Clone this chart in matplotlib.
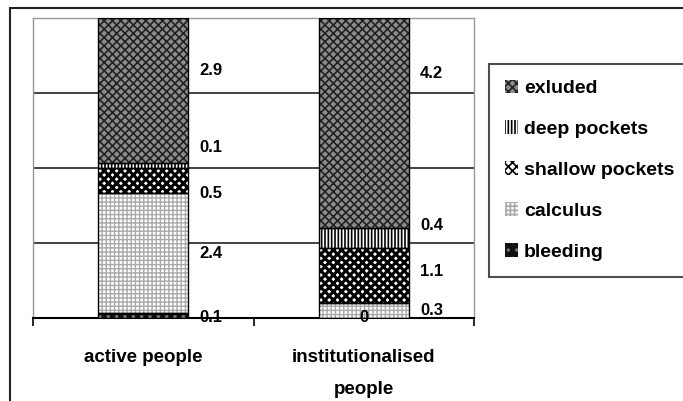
import numpy as np
import matplotlib
matplotlib.use("Agg")
import matplotlib.pyplot as plt
from matplotlib.patches import Rectangle

plt.rcParams['font.family'] = ['Liberation Sans', 'DejaVu Sans']
plt.rcParams['hatch.linewidth'] = 1.2

# data, bottom to top
groups = ['active people', 'institutionalised\npeople']
series = ['bleeding', 'calculus', 'shallow pockets', 'deep pockets', 'exluded']
values = {
    'bleeding': [0.1, 0.0],
    'calculus': [2.4, 0.3],
    'shallow pockets': [0.5, 1.1],
    'deep pockets': [0.1, 0.4],
    'exluded': [2.9, 4.2],
}
value_labels = {
    'bleeding': ['0.1', '0'],
    'calculus': ['2.4', '0.3'],
    'shallow pockets': ['0.5', '1.1'],
    'deep pockets': ['0.1', '0.4'],
    'exluded': ['2.9', '4.2'],
}

# fill styles (face, hatch colour, hatch, hatch width)
styles = {
    'bleeding': ('#111111', '#777777', '..', 1.2),
    'calculus': ('white', '#aaaaaa', '++++', 1.0),
    'shallow pockets': ('white', 'black', 'xxxx', 2.2),
    'deep pockets': ('white', 'black', '|||||', 1.2),
    'exluded': ('#8c8c8c', '#222222', 'xxxx', 1.2),
}
# nudges of the value labels (data units), like the hand-placed labels in the original
label_shift = {
    'bleeding': [-0.05, 0.0],
    'calculus': [0.0, 0.0],
    'shallow pockets': [-0.25, 0.07],
    'deep pockets': [0.35, 0.25],
    'exluded': [0.4, 1.0],
}

fig = plt.figure(figsize=(6.83, 4.01), dpi=100)
fig.patches.append(Rectangle((10 / 683, -0.2), 1.2, 1.2 - 8 / 401, transform=fig.transFigure,
                             fill=False, edgecolor='#222222', linewidth=1.5))
ax = fig.add_axes([33 / 683, 1 - 318 / 401, 441 / 683, 300 / 401])

x = np.arange(len(groups))
width = 0.41
bottom = np.zeros(len(groups))
handles = {}
for name in series:
    vals = np.array(values[name])
    face, hcol, hatch, hlw = styles[name]
    b = ax.bar(x, vals, width, bottom=bottom, color=face, edgecolor=hcol, hatch=hatch,
               linewidth=0, zorder=3)
    for p in b.patches:
        if hasattr(p, 'set_hatch_linewidth'):
            p.set_hatch_linewidth(hlw)
    ax.bar(x, vals, width, bottom=bottom, fill=False, edgecolor='black', linewidth=1.0, zorder=4)
    handles[name] = b
    for i in range(len(groups)):
        yc = bottom[i] + vals[i] / 2 + label_shift[name][i]
        if vals[i] == 0:
            ax.text(x[i], yc, value_labels[name][i], ha='center', va='center',
                    fontsize=12, fontweight='bold', zorder=5)
        else:
            ax.text(x[i] + width / 2 + 0.05, yc, value_labels[name][i], ha='left', va='center',
                    fontsize=12, fontweight='bold', zorder=5)
    bottom += vals

ax.set_xlim(-0.5, 1.5)
ax.set_ylim(0, 6)
ax.set_yticks([])
for yg in [1.5, 3.0, 4.5]:
    ax.axhline(yg, color='#222222', linewidth=1.2, zorder=1)

ax.set_xticks(x)
ax.set_xticklabels(groups, fontsize=13.5, fontweight='bold', linespacing=2.2)
ax.tick_params(axis='x', which='major', length=0, pad=22)
ax.set_xticks([-0.5, 0.5, 1.5], minor=True)
ax.tick_params(axis='x', which='minor', length=6, width=1.2, direction='out')

for side in ['left', 'top', 'right']:
    ax.spines[side].set_color('#999999')
    ax.spines[side].set_linewidth(1.0)
ax.spines['bottom'].set_color('black')
ax.spines['bottom'].set_linewidth(1.5)

order = ['exluded', 'deep pockets', 'shallow pockets', 'calculus', 'bleeding']
leg = fig.legend([handles[n] for n in order], order, loc='upper left',
                 bbox_to_anchor=(489 / 683, 1 - 64 / 401), prop={'size': 14, 'weight': 'bold'},
                 frameon=True, fancybox=False, handlelength=0.7, handleheight=0.7,
                 handletextpad=0.3, labelspacing=1.2, borderpad=0.8, borderaxespad=0)
leg.get_frame().set_edgecolor('#222222')
leg.get_frame().set_linewidth(1.5)

fig.savefig('out.png', dpi=100)
